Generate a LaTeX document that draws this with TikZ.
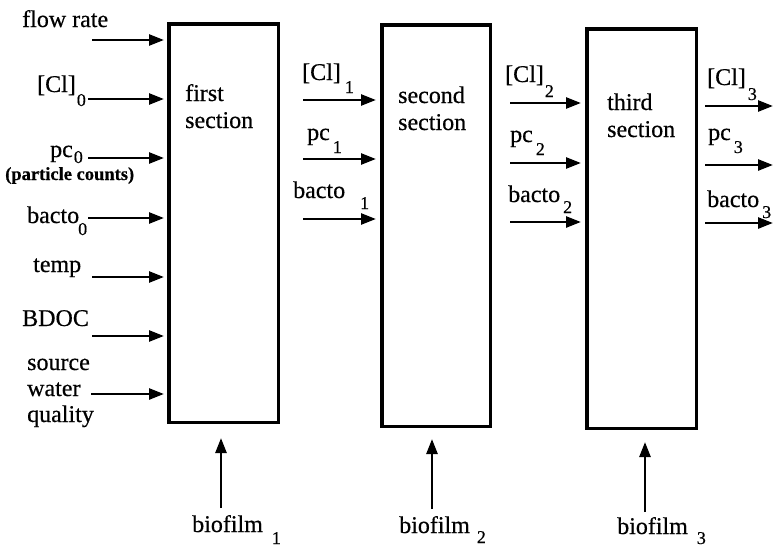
\documentclass[tikz,border=0pt]{standalone}
\usepackage{fontspec}
\setmainfont{Liberation Serif}[FakeBold=0.5]
\usetikzlibrary{arrows.meta}

% subscript: horizontal gap, drop below the baseline, text
\newcommand{\lowsub}[3]{\hspace{#1pt}\raisebox{-#2pt}{\fontsize{18}{18}\selectfont #3}}

\begin{document}
\begin{tikzpicture}[x=1pt,y=-1pt,
  txt/.style={anchor=base west, inner sep=0pt, font=\fontsize{24}{26}\selectfont, align=left},
  sectxt/.style={anchor=base west, inner sep=0pt, font=\fontsize{24}{27}\selectfont, align=left},
  secbox/.style={draw, line width=3.5pt, inner sep=0pt, minimum width=109.5pt},
  arr/.style={line width=2.6pt, -{Triangle[length=15pt,width=11pt]}},
]
\useasboundingbox (0,0) rectangle (774,549);

% the three pipe sections
\node[secbox, minimum height=398.5pt] (box1) at (223.5,223) {};
\node[secbox, minimum width=108.5pt, minimum height=401.5pt] (box2) at (436,225.5) {};
\node[secbox, minimum height=399.5pt] (box3) at (641.5,228.5) {};

\node[sectxt] (t1) at (185,128) {first\\section};
\node[sectxt] (t2) at (398,130) {second\\section};
\node[sectxt] (t3) at (607,137) {third\\section};

% inputs of the first section
\node[txt] (flow) at (22,27) {flow rate};
\node[txt] (cl0) at (37,92) {[Cl]\lowsub{1}{14}{0}};
\node[txt] (pc0) at (50,157) {pc\lowsub{1}{6}{0}};
\node[anchor=base west, inner sep=0pt, font=\fontsize{18.5}{20}\selectfont\bfseries] (pcnote) at (5,180) {(particle counts)};
\node[txt] (bac0) at (27,223) {bacto\lowsub{-1}{12}{0}};
\node[txt] (temp) at (33,272) {temp};
\node[txt] (bdoc) at (22,326) {BDOC};
\node[txt] (swq) at (27,422) {source\\water\\quality};

\coordinate (a1) at (92,40);
\coordinate (a2) at (88,99);
\coordinate (a3) at (88,158);
\coordinate (a4) at (88,218);
\coordinate (a5) at (92,277);
\coordinate (a6) at (92,336);
\coordinate (a7) at (91,394);
\foreach \c in {a1,a2,a3,a4,a5,a6,a7}
  \draw[arr, shorten >=3pt] (\c) -- (box1.west |- \c);

% between first and second section
\node[txt] (cl1) at (302,80) {[Cl]\lowsub{4}{13}{1}};
\node[txt] (pc1) at (307,140) {pc\lowsub{3}{13}{1}};
\node[txt] (bac1) at (293,198) {bacto\lowsub{15}{11}{1}};
\coordinate (b1) at (303,100);
\coordinate (b2) at (303,159);
\coordinate (b3) at (303,219);
\foreach \c in {b1,b2,b3}
  \draw[arr, shorten >=4pt] (\c) -- (box2.west |- \c);

% between second and third section
\node[txt] (cl2) at (505,82) {[Cl]\lowsub{1}{15}{2}};
\node[txt] (pc2) at (510,142) {pc\lowsub{3}{13}{2}};
\node[txt] (bac2) at (508,202) {bacto\lowsub{3}{11}{2}};
\coordinate (c1) at (510,103);
\coordinate (c2) at (510,163);
\coordinate (c3) at (510,222);
\foreach \c in {c1,c2,c3}
  \draw[arr, shorten >=4pt] (\c) -- (box3.west |- \c);

% outputs of the third section
\node[txt] (cl3) at (707,85) {[Cl]\lowsub{2}{15}{3}};
\node[txt] (pc3) at (708,140) {pc\lowsub{3}{13}{3}};
\node[txt] (bac3) at (707,207) {bacto\lowsub{3}{11}{3}};
\coordinate (d1) at (705,106);
\coordinate (d2) at (705,165);
\coordinate (d3) at (705,223);
\coordinate (e1) at (773,106);
\coordinate (e2) at (773,165);
\coordinate (e3) at (773,223);
\draw[arr] (d1) -- (e1);
\draw[arr] (d2) -- (e2);
\draw[arr] (d3) -- (e3);

% biofilm inputs from below
\node[txt] (bf1) at (192,532) {biofilm\lowsub{9}{12}{1}};
\node[txt] (bf2) at (399,533) {biofilm\lowsub{7}{10}{2}};
\node[txt] (bf3) at (617,534) {biofilm\lowsub{9}{10}{3}};
\coordinate (f1) at (221,508);
\coordinate (f2) at (432,509);
\coordinate (f3) at (645,512);
\draw[arr, shorten >=14pt] (f1) -- (box1.south -| f1);
\draw[arr, shorten >=11pt] (f2) -- (box2.south -| f2);
\draw[arr, shorten >=12pt] (f3) -- (box3.south -| f3);
\end{tikzpicture}
\end{document}
